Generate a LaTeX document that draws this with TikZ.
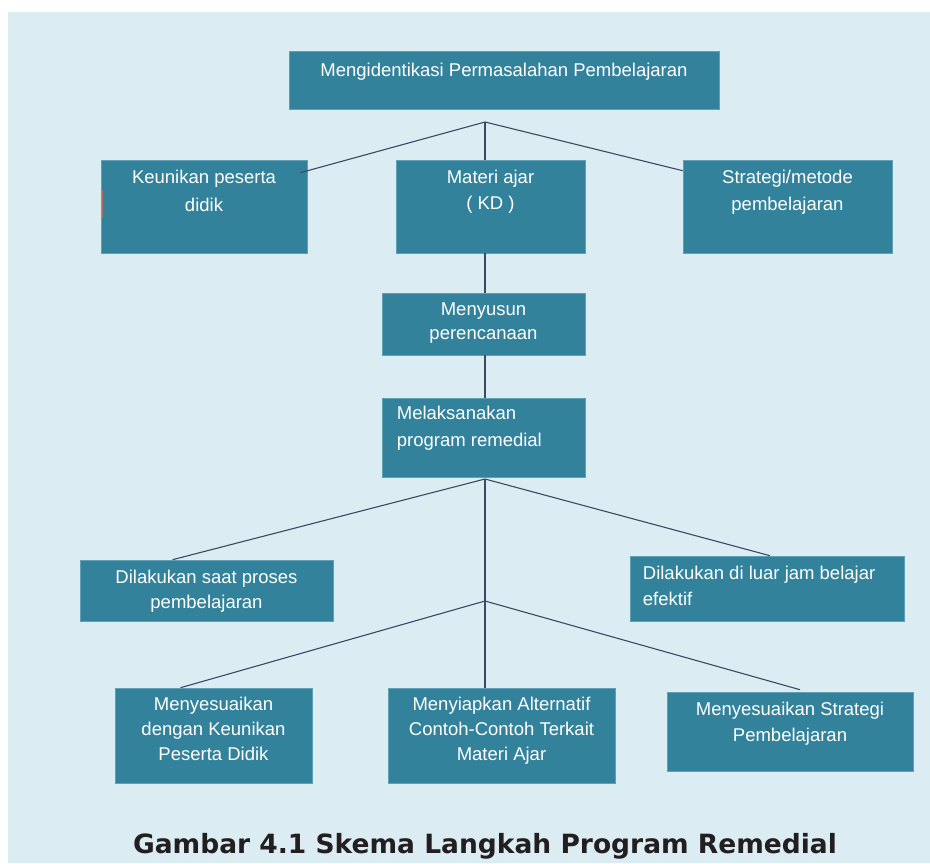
\documentclass[tikz,border=0pt]{standalone}
\usepackage{fontspec}
\setmainfont{Liberation Sans}
\newfontfamily\capfont{DejaVu Sans}
\usetikzlibrary{positioning}
\definecolor{bgblue}{RGB}{219,237,243}
\definecolor{boxteal}{RGB}{50,130,155}
\definecolor{boxedge}{RGB}{95,160,182}
\definecolor{linkgray}{RGB}{60,72,100}
\definecolor{captext}{RGB}{35,31,32}
\definecolor{redmark}{RGB}{170,110,100}

\begin{document}
\begin{tikzpicture}[x=1pt,y=-1pt,node distance=10pt]
  \tikzstyle{box}=[draw=boxedge,line width=0.6pt,fill=boxteal,inner sep=0pt]
  \tikzstyle{boxtext}=[text=white,inner sep=0pt,align=center,
                       font=\fontsize{18.5}{26}\selectfont]
  \tikzstyle{link}=[draw=linkgray,line width=1.1pt]

  \useasboundingbox (0,0) rectangle (930,863);
  \fill[bgblue] (8,12) rectangle (930,863);

  \node[box,minimum width=430pt,minimum height=58pt] (ident) at (504,80) {};
  \node[box,minimum width=206pt,minimum height=93pt] (keu)   at (204,206.5) {};
  \node[box,minimum width=189pt,minimum height=93pt] (mat)   at (490.5,206.5) {};
  \node[box,minimum width=209pt,minimum height=93pt] (strat) at (787.5,206.5) {};
  \node[box,minimum width=203pt,minimum height=62pt] (susun) at (483.5,324) {};
  \node[box,minimum width=203pt,minimum height=79pt] (laks)  at (483.5,437.5) {};
  \node[box,minimum width=253pt,minimum height=61pt] (saat)  at (206.5,590.5) {};
  \node[box,minimum width=274pt,minimum height=65pt] (luar)  at (767,588.5) {};
  \node[box,minimum width=197pt,minimum height=95pt] (sesuai) at (213.5,735.5) {};
  \node[box,minimum width=227pt,minimum height=95pt] (siap)  at (501.5,735.5) {};
  \node[box,minimum width=246pt,minimum height=79pt] (sestrat) at (790,731.5) {};

  \node[boxtext,below=12pt of ident.north] (ident-t) {Mengidentikasi Permasalahan Pembelajaran};
  \node[boxtext,below=10pt of keu.north,font=\fontsize{18.5}{28}\selectfont] (keu-t) {Keunikan peserta\\didik};
  \node[boxtext,below=10pt of mat.north] (mat-t) {Materi ajar\\( KD )};
  \node[boxtext,below=10pt of strat.north,font=\fontsize{18.5}{27}\selectfont] (strat-t) {Strategi/metode\\pembelajaran};
  \node[boxtext,below=10pt of susun.north,font=\fontsize{18.5}{24}\selectfont] (susun-t) {Menyusun\\perencanaan};
  \node[boxtext,align=left,below right=8pt and 15pt of laks.north west,
        font=\fontsize{18.5}{27}\selectfont] (laks-t) {Melaksanakan\\program remedial};
  \node[boxtext,below=10pt of saat.north,font=\fontsize{18.5}{25}\selectfont] (saat-t) {Dilakukan saat proses\\pembelajaran};
  \node[boxtext,align=left,below right=10pt and 13pt of luar.north west] (luar-t) {Dilakukan di luar jam belajar\\efektif};
  \node[boxtext,below=9pt of sesuai.north,font=\fontsize{18.5}{25}\selectfont] (sesuai-t) {Menyesuaikan\\dengan Keunikan\\Peserta Didik};
  \node[boxtext,below=9pt of siap.north,font=\fontsize{18.5}{25}\selectfont] (siap-t) {Menyiapkan Alternatif\\Contoh-Contoh Terkait\\Materi Ajar};
  \node[boxtext,below=10pt of sestrat.north] (sestrat-t) {Menyesuaikan Strategi\\Pembelajaran};

  \draw[redmark,line width=1pt] ([shift={(1.5,30)}]keu.north west) -- ++(0,28);

  \coordinate (top) at (485,122);
  \coordinate (mid) at (485,479);
  \coordinate (low) at (485,601);

  \path[link] (top) edge ([shift={(-7,13)}]keu.north east)
              (top) edge (top |- mat.north)
              (top) edge ([yshift=-11pt]strat.north west)
              (top |- mat.south) edge (top |- susun.north)
              (top |- susun.south) edge (top |- laks.north)
              (mid) edge ([xshift=-34pt]saat.north)
              (mid) edge ([xshift=3pt]luar.north)
              (mid) edge (mid |- siap.north)
              (low) edge ([xshift=-33pt]sesuai.north)
              (low) edge ([shift={(10,-2)}]sestrat.north);

  \node[font=\capfont\bfseries\fontsize{26.5}{30}\selectfont,text=captext,anchor=base]
    (caption) at (485,853) {Gambar 4.1 Skema Langkah Program Remedial};
\end{tikzpicture}
\end{document}
